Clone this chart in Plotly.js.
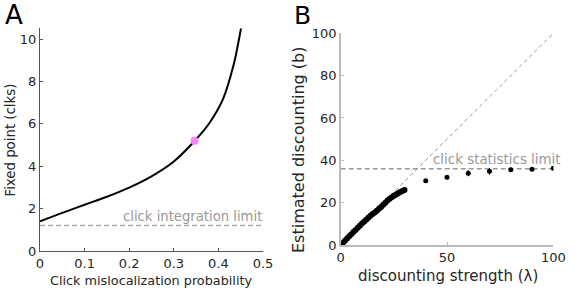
<!DOCTYPE html>
<html><head><meta charset="utf-8">
<script src="https://cdn.plot.ly/plotly-3.0.1.min.js"></script>
<style>html,body{margin:0;padding:0;background:#fff}#plot{width:581px;height:291px}</style>
</head><body><div id="plot"></div>
<script>
// Panel A: fixed point vs click mislocalization probability
const probA = [0, 0.05, 0.1, 0.15, 0.2, 0.25, 0.3, 0.35, 0.38, 0.41, 0.434, 0.45, 0.455];
const fixedA = [1.4, 1.8, 2.18, 2.56, 2.99, 3.52, 4.22, 5.27, 6.04, 7.15, 8.77, 10.42, 11.0];
const dotP = [0.3465];
const dotV = [5.2];
const integrationLimit = 1.2;

// Panel B: estimated discounting vs discounting strength
const lamDense = [0,1,2,3,4,5,6,7,8,9,10,11,12,13,14,15,16,17,18,19,20,21,22,23,24,25,26,27,28,29,30];
const bDense = [0,1,2,3.1,4.1,5.1,6.1,7.1,8.1,9.1,10.1,11,11.9,12.9,13.8,14.6,15.4,16.2,17.1,18,19,20,21,21.9,22.6,23.3,23.9,24.5,25,25.5,26];
const lamSparse = [40, 50, 60, 70, 80, 90, 100];
const bSparse = [30.4, 32.0, 33.9, 34.8, 35.6, 35.8, 36.2];
const bErr = [0.6, 0.6, 1.4, 1.6, 1.0, 1.0, 1.0];
const statsLimit = 36;

const FONT = 'DejaVu Sans, sans-serif';
const traces = [
  {x: probA, y: fixedA, mode: 'lines', line: {color: '#000', width: 2, shape: 'spline', smoothing: 1}, xaxis: 'x', yaxis: 'y', hoverinfo: 'none'},
  {x: [0, 0.5], y: [integrationLimit, integrationLimit], mode: 'lines', line: {color: '#aaa', width: 1.5, dash: '5px,3px'}, xaxis: 'x', yaxis: 'y'},
  {x: dotP, y: dotV, mode: 'markers', marker: {color: '#ff80ff', size: 8}, xaxis: 'x', yaxis: 'y'},
  {x: [0, 100], y: [0, 100], mode: 'lines', line: {color: '#999', width: 1, dash: '4px,3px'}, xaxis: 'x2', yaxis: 'y2'},
  {x: [0, 100], y: [statsLimit, statsLimit], mode: 'lines', line: {color: '#999', width: 1.5, dash: '5px,3px'}, xaxis: 'x2', yaxis: 'y2'},
  {x: lamDense, y: bDense, mode: 'markers', marker: {color: '#000', size: 6}, xaxis: 'x2', yaxis: 'y2'},
  {x: lamSparse, y: bSparse, mode: 'markers', marker: {color: '#000', size: 5},
   error_y: {type: 'data', array: bErr, color: '#000', thickness: 1, width: 0}, xaxis: 'x2', yaxis: 'y2'}
];

const axA = {showgrid: false, zeroline: false, showline: true, linecolor: '#555', linewidth: 1,
  ticks: 'inside', ticklen: 3, tickcolor: '#555', tickfont: {family: FONT, size: 13, color: '#262626'}};
const axB = {showgrid: false, zeroline: false, showline: true, linecolor: '#bbb', linewidth: 1.5,
  ticks: 'inside', ticklen: 3, tickcolor: '#bbb', tickfont: {family: FONT, size: 13, color: '#262626'}};

const ann = (text, x, y, size, extra) => Object.assign({text: text, xref: 'paper', yref: 'paper', x: x / 581, y: 1 - y / 291,
  xanchor: 'center', yanchor: 'middle', showarrow: false, font: {family: FONT, size: size, color: '#262626'}}, extra || {});

const layout = {
  width: 581, height: 291, margin: {l: 0, r: 0, t: 0, b: 0},
  paper_bgcolor: '#fff', plot_bgcolor: 'rgba(0,0,0,0)', showlegend: false,
  font: {family: FONT},
  xaxis: Object.assign({}, axA, {domain: [40/581, 263/581], range: [0, 0.5], tickvals: [0, 0.1, 0.2, 0.3, 0.4, 0.5], ticktext: ['0','0.1','0.2','0.3','0.4','0.5'], anchor: 'y'}),
  yaxis: Object.assign({}, axA, {domain: [40/291, 262.6/291], range: [0, 10.5], tickvals: [0, 2, 4, 6, 8, 10], anchor: 'x'}),
  xaxis2: Object.assign({}, axB, {domain: [340.7/581, 553.3/581], range: [0, 100], tickvals: [0, 50, 100], anchor: 'y2'}),
  yaxis2: Object.assign({}, axB, {domain: [46/291, 257.7/291], range: [0, 100], tickvals: [0, 20, 40, 60, 80, 100], anchor: 'x2'}),
  annotations: [
    ann('A', 14, 15, 26, {font: {family: FONT, size: 26, color: '#000'}}),
    ann('B', 302, 15, 25, {font: {family: FONT, size: 25, color: '#000'}}),
    ann('Fixed point (clks)', 9.5, 140, 13.3, {textangle: -90}),
    ann('Click mislocalization probability', 150.5, 280, 12.8),
    ann('Estimated discounting (b)', 299, 150, 16, {textangle: -90}),
    ann('discounting strength (λ)', 447.5, 276, 15),
    {text: 'click integration limit', xref: 'x', yref: 'y', x: 0.5, y: integrationLimit, xanchor: 'right', yanchor: 'bottom', xshift: 1, yshift: 0, showarrow: false, font: {family: FONT, size: 13.2, color: '#999'}},
    {text: 'click statistics limit', xref: 'x2', yref: 'y2', x: 100, y: statsLimit, xanchor: 'right', yanchor: 'bottom', xshift: 10, yshift: 0, showarrow: false, font: {family: FONT, size: 13.4, color: '#999'}}
  ]
};
Plotly.newPlot('plot', traces, layout, {displayModeBar: false, staticPlot: true});
</script></body></html>
